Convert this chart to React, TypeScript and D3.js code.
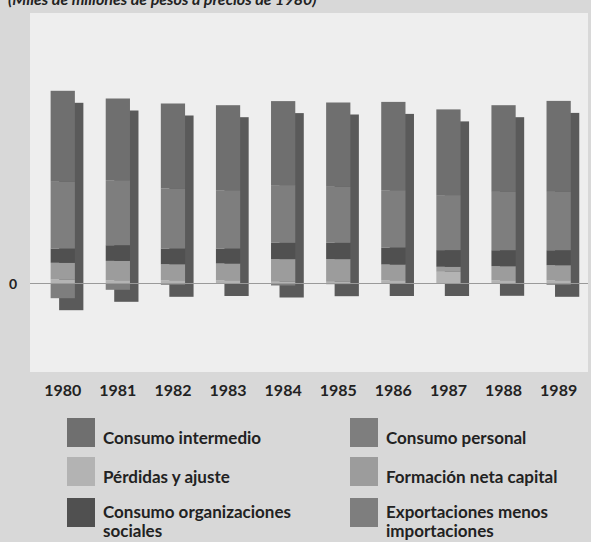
import * as d3 from "d3";

const years = ["1980", "1981", "1982", "1983", "1984", "1985", "1986", "1987", "1988", "1989"];

// miles de millones de pesos a precios de 1980
const consumoIntermedio = [910, 817, 850, 850, 840, 843, 883, 857, 867, 910];
const consumoPersonal = [667, 650, 600, 583, 577, 560, 573, 550, 583, 583];
const consumoOrgSociales = [143, 157, 157, 150, 163, 163, 170, 167, 160, 150];
const formacionCapital = [167, 193, 160, 167, 227, 227, 157, 50, 140, 150];
const perdidasAjuste = [40, 33, 33, 33, 17, 17, 33, 117, 33, 33];
const exportMenosImport = [-147, -63, -13, -5, -20, -7, -5, -5, -3, -13];

const series = [
  { key: "perdidas", label: "Pérdidas y ajuste", values: perdidasAjuste, color: "#b3b3b3" },
  { key: "formacion", label: "Formación neta capital", values: formacionCapital, color: "#9c9c9c" },
  { key: "orgsoc", label: "Consumo organizaciones sociales", values: consumoOrgSociales, color: "#505050" },
  { key: "personal", label: "Consumo personal", values: consumoPersonal, color: "#7e7e7e" },
  { key: "intermedio", label: "Consumo intermedio", values: consumoIntermedio, color: "#6f6f6f" },
  { key: "export", label: "Exportaciones menos importaciones", values: exportMenosImport, color: "#7e7e7e" },
];

// legend order: [column, row]
const legendItems = [
  { key: "intermedio", lines: ["Consumo intermedio"], col: 0, row: 0 },
  { key: "perdidas", lines: ["Pérdidas y ajuste"], col: 0, row: 1 },
  { key: "orgsoc", lines: ["Consumo organizaciones", "sociales"], col: 0, row: 2 },
  { key: "personal", lines: ["Consumo personal"], col: 1, row: 0 },
  { key: "formacion", lines: ["Formación neta capital"], col: 1, row: 1 },
  { key: "export", lines: ["Exportaciones menos", "importaciones"], col: 1, row: 2 },
];

const W = 591;
const H = 542;
const FONT = "Lato, 'Open Sans', sans-serif";

export default function App() {
  const table = years.map((yr, i) => {
    const row: any = { year: yr };
    series.forEach((s) => (row[s.key] = s.values[i]));
    return row;
  });

  const stack = d3
    .stack()
    .keys(series.map((s) => s.key))
    .offset(d3.stackOffsetDiverging);
  const layers = stack(table);

  const x = d3
    .scaleBand()
    .domain(years)
    .range([35.2, 586.2])
    .paddingInner(0.56)
    .paddingOuter(0.28);

  const y = d3.scaleLinear().domain([-885, 2695]).range([372, 14]);

  const colorOf = (k) => series.find((s) => s.key === k).color;

  const totals = table.map((row) => {
    let pos = 0;
    let neg = 0;
    series.forEach((s) => {
      if (row[s.key] >= 0) pos += row[s.key];
      else neg += row[s.key];
    });
    return { year: row.year, pos, neg };
  });

  const shadowDx = 8.5;
  const shadowDy = 12;

  return (
    <svg
      width={W}
      height={H}
      style={{ position: "absolute", left: 0, top: 0, fontFamily: FONT }}
    >
      <rect width={W} height={H} fill="#d8d8d8" />
      <rect x={30} y={13} width={558} height={359} fill="#eeeeee" />

      <text x={8} y={5} fontSize={16} fontWeight={700} fontStyle="italic" fill="#222">
        (Miles de millones de pesos a precios de 1980)
      </text>

      {/* sombras */}
      {totals.map((t) => (
        <rect
          key={"sh" + t.year}
          x={x(t.year) + shadowDx}
          y={y(t.pos) + shadowDy}
          width={x.bandwidth()}
          height={y(t.neg) - y(t.pos)}
          fill="#5a5a5a"
        />
      ))}

      {layers.map((layer) => (
        <g key={layer.key} fill={colorOf(layer.key)}>
          {layer.map((d) => (
            <rect
              key={d.data.year}
              x={x(d.data.year)}
              y={y(Math.max(d[0], d[1]))}
              width={x.bandwidth()}
              height={Math.abs(y(d[0]) - y(d[1]))}
            />
          ))}
        </g>
      ))}

      <line x1={30} x2={588} y1={y(0)} y2={y(0)} stroke="#9a9a9a" strokeWidth={1} />
      <text x={13} y={y(0) + 5} fontSize={14} fontWeight={700} fill="#222" textAnchor="middle">
        0
      </text>

      {years.map((yr) => (
        <text
          key={yr}
          x={x(yr) + x.bandwidth() / 2}
          y={396}
          fontSize={16}
          fontWeight={700}
          fill="#222"
          textAnchor="middle"
        >
          {yr}
        </text>
      ))}

      {legendItems.map((it) => {
        const sx = it.col === 0 ? 67 : 350;
        const top = [418, 457, 498][it.row];
        const tx = it.col === 0 ? 103 : 386;
        const base = it.lines.length > 1 ? top + 20 : top + 26;
        return (
          <g key={it.key}>
            <rect x={sx} y={top} width={28} height={29} fill={colorOf(it.key)} />
            {it.lines.map((ln, j) => (
              <text
                key={j}
                x={tx}
                y={base + j * 19}
                fontSize={17}
                fontWeight={700}
                fill="#222"
              >
                {ln}
              </text>
            ))}
          </g>
        );
      })}
    </svg>
  );
}
